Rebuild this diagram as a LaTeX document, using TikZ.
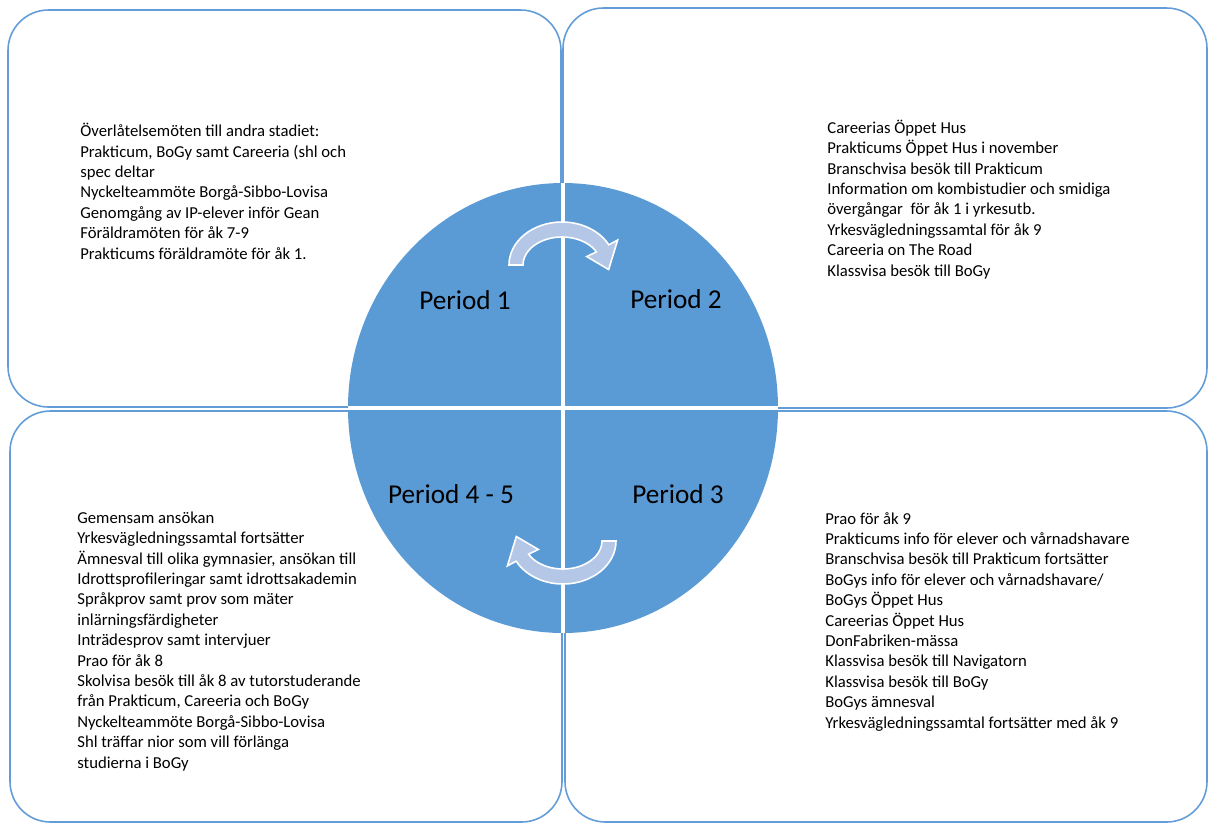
\documentclass[tikz,border=0pt]{standalone}
\usepackage{fontspec}
\setmainfont{Carlito}
\definecolor{boxblue}{RGB}{98,157,216}
\definecolor{pieblue}{RGB}{91,155,213}
\definecolor{arrowblue}{RGB}{180,199,231}
\tikzset{
  periodbox/.style={draw=boxblue, line width=0.9pt, rounded corners=23pt},
  listtext/.style={anchor=base west, align=left, inner sep=0pt,
    font=\fontsize{9.5}{11.6}\selectfont},
  periodlabel/.style={font=\fontsize{15.5}{18}\selectfont, inner sep=0pt},
  turnarrow/.pic={
    \filldraw[fill=arrowblue, draw=white, line width=0.9pt]
      (180:53 and 43) arc[start angle=180, end angle=332, x radius=53, y radius=43]
      -- (332:63 and 53) -- (367:47 and 37) -- (332:28 and 18)
      -- (332:39 and 28) arc[start angle=332, end angle=180, x radius=39, y radius=28]
      -- cycle;
  }
}
\begin{document}
\begin{tikzpicture}[x=0.02cm, y=-0.02cm]
  \useasboundingbox (0,0) rectangle (1208,823);
  % the four boxes
  \draw[periodbox] (8,10) rectangle (561,407);
  \draw[periodbox] (563,8) rectangle (1207,408);
  \draw[periodbox] (10,411) rectangle (562,822);
  \draw[periodbox] (565,411) rectangle (1207,822);
  % the wheel
  \fill[pieblue] (563,408) ellipse[x radius=215, y radius=225];
  \draw[white, line width=2.2pt] (563,183) -- (563,633);
  \draw[white, line width=2.2pt] (348,408) -- (778,408);
  \pic at (562,265) {turnarrow};
  \pic[rotate=180] at (563,541) {turnarrow};
  \node[periodlabel] (per1)  at (465,300) {Period 1};
  \node[periodlabel] (per2)  at (676,299) {Period 2};
  \node[periodlabel] (per45) at (451,494) {Period 4 - 5};
  \node[periodlabel] (per3)  at (678,494) {Period 3};
  % lists (placed at the baseline of their last line)
  \node[listtext] (p1text) at (80,259) {%
    Överlåtelsemöten till andra stadiet:\\
    Prakticum, BoGy samt Careeria (shl och\\
    spec deltar\\
    Nyckelteammöte Borgå-Sibbo-Lovisa\\
    Genomgång av IP-elever inför Gean\\
    Föräldramöten för åk 7-9\\
    Prakticums föräldramöte för åk 1.};
  \node[listtext] (p2text) at (827,276) {%
    Careerias Öppet Hus\\
    Prakticums Öppet Hus i november\\
    Branschvisa besök till Prakticum\\
    Information om kombistudier och smidiga\\
    övergångar\ \ för åk 1 i yrkesutb.\\
    Yrkesvägledningssamtal för åk 9\\
    Careeria on The Road\\
    Klassvisa besök till BoGy};
  \node[listtext] (p45text) at (77,768) {%
    Gemensam ansökan\\
    Yrkesvägledningssamtal fortsätter\\
    Ämnesval till olika gymnasier, ansökan till\\
    Idrottsprofileringar samt idrottsakademin\\
    Språkprov samt prov som mäter\\
    inlärningsfärdigheter\\
    Inträdesprov samt intervjuer\\
    Prao för åk 8\\
    Skolvisa besök till åk 8 av tutorstuderande\\
    från Prakticum, Careeria och BoGy\\
    Nyckelteammöte Borgå-Sibbo-Lovisa\\
    Shl träffar nior som vill förlänga\\
    studierna i BoGy};
  \node[listtext] (p3text) at (825,728) {%
    Prao för åk 9\\
    Prakticums info för elever och vårnadshavare\\
    Branschvisa besök till Prakticum fortsätter\\
    BoGys info för elever och vårnadshavare/\\
    BoGys Öppet Hus\\
    Careerias Öppet Hus\\
    DonFabriken-mässa\\
    Klassvisa besök till Navigatorn\\
    Klassvisa besök till BoGy\\
    BoGys ämnesval\\
    Yrkesvägledningssamtal fortsätter med åk 9};
\end{tikzpicture}
\end{document}
